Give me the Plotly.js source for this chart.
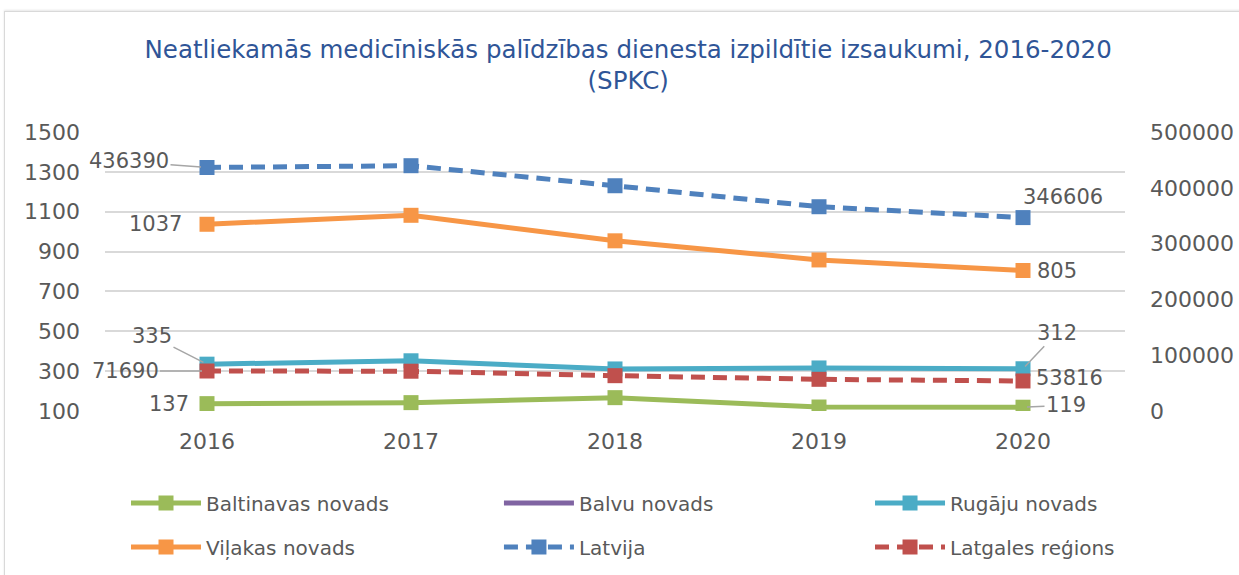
<!DOCTYPE html>
<html>
<head>
<meta charset="utf-8">
<script src="https://cdn.plot.ly/plotly-3.0.1.min.js"></script>
<style>
html,body{margin:0;padding:0;background:#fff;}
#wrap{position:relative;width:1239px;height:575px;overflow:hidden;}
#frame{position:absolute;left:4px;top:11px;width:1240px;height:570px;border:1px solid #d9d9d9;box-shadow:0 -1px 2px #e6e6e6;}
#chart{position:absolute;left:0;top:0;width:1239px;height:575px;}
</style>
</head>
<body>
<div id="wrap"><div id="frame"></div><div id="chart"></div></div>
<script>
const years = [2016, 2017, 2018, 2019, 2020];
const baltinavas = [137, 142, 167, 120, 119];
const balvu = [null, null, null, null, null];
const rugaju = [335, 352, 311, 316, 312];
const vilakas = [1037, 1082, 954, 858, 805];
const latvija = [436390, 439600, 403700, 366100, 346606];
const latgales = [71690, 71300, 63300, 56800, 53816];
const names = ['Baltinavas novads','Balvu novads','Rugāju novads','Viļakas novads','Latvija','Latgales reģions'];
const colors = ['#9BBB59','#8064A2','#4BACC6','#F79646','#4F81BD','#C0504D'];

const grey = '#595959';
const fontFam = 'DejaVu Sans, Noto Sans, sans-serif';
const legIds = ['legend','legend2','legend3','legend4','legend5','legend6'];

function tr(y, i, axis, dashed){
  return {
    x: years, y: y, name: names[i], type: 'scatter', mode: (i===1?'lines':'lines+markers'),
    yaxis: axis, legend: legIds[i],
    line: {color: colors[i], width: 5, dash: dashed ? '14px,8px' : 'solid'},
    marker: {symbol: 'square', size: 15, color: colors[i]},
    connectgaps: false
  };
}
const data = [
  tr(baltinavas,0,'y',false),
  tr(balvu,1,'y',false),
  tr(rugaju,2,'y',false),
  tr(vilakas,3,'y',false),
  tr(latvija,4,'y2',true),
  tr(latgales,5,'y2',true)
];

const af = {family: fontFam, size: 21, color: grey};
function lab(x, y, yref, opt){
  return Object.assign({x: x, y: y, xref: 'x', yref: yref, text: String(y), font: af,
    showarrow: false, arrowhead: 0, arrowwidth: 1.5, arrowcolor: '#a6a6a6'}, opt);
}
const annotations = [
  lab(years[0], latvija[0], 'y2', {showarrow: true, ax: -78, ay: -6, standoff: 6}),
  lab(years[4], latvija[4], 'y2', {xshift: 40, yshift: 21}),
  lab(years[0], vilakas[0], 'y', {xshift: -52}),
  lab(years[4], vilakas[4], 'y', {xshift: 34}),
  lab(years[0], rugaju[0], 'y', {showarrow: true, ax: -55, ay: -28, standoff: 4}),
  lab(years[4], rugaju[4], 'y', {showarrow: true, ax: 34, ay: -36, standoff: 3}),
  lab(years[0], latgales[0], 'y2', {showarrow: true, ax: -82, ay: 0, standoff: 5}),
  lab(years[4], latgales[4], 'y2', {xshift: 46, yshift: 3}),
  lab(years[0], baltinavas[0], 'y', {xshift: -38}),
  lab(years[4], baltinavas[4], 'y', {showarrow: true, ax: 43, ay: -2, standoff: 4})
];

const legX = [0.1017, 0.4027, 0.7022];
const legY = [0.1252, 0.0487];
function leg(k){
  return {orientation: 'h', xref: 'container', yref: 'container',
    x: legX[k % 3], xanchor: 'left', y: legY[Math.floor(k / 3)], yanchor: 'middle',
    itemwidth: 70, bgcolor: 'rgba(0,0,0,0)',
    font: {family: fontFam, size: 20, color: grey}};
}

const layout = {
  width: 1239, height: 575,
  paper_bgcolor: 'rgba(0,0,0,0)', plot_bgcolor: 'rgba(0,0,0,0)',
  margin: {l: 105, r: 114, t: 132, b: 164},
  font: {family: fontFam, color: grey},
  title: {text: 'Neatliekamās medicīniskās palīdzības dienesta izpildītie izsaukumi, 2016-2020<br>(SPKC)',
    font: {family: fontFam, size: 24.5, color: '#2F5597'}, x: 0.507, xanchor: 'center', y: 0.9, yanchor: 'top'},
  xaxis: {range: [2015.5, 2020.5], dtick: 1, tick0: 2016, showgrid: false, zeroline: false, showline: false, ticks: '',
    tickfont: {size: 22, color: grey}, ticklabelstandoff: 15, tickformat: 'd'},
  yaxis: {range: [100, 1500], dtick: 200, tick0: 100, showgrid: true, gridcolor: '#d9d9d9', gridwidth: 2,
    zeroline: false, showline: false, ticks: '', tickfont: {size: 22, color: grey}, ticklabelstandoff: 24},
  yaxis2: {range: [0, 500000], dtick: 100000, overlaying: 'y', side: 'right', showgrid: false,
    zeroline: false, showline: false, ticks: '', tickformat: 'd', tickfont: {size: 22, color: grey}, ticklabelstandoff: 24},
  showlegend: true,
  annotations: annotations
};
legIds.forEach(function(id, k){ layout[id] = leg(k); });
Plotly.newPlot('chart', data, layout, {displayModeBar: false, staticPlot: true});
</script>
</body>
</html>
